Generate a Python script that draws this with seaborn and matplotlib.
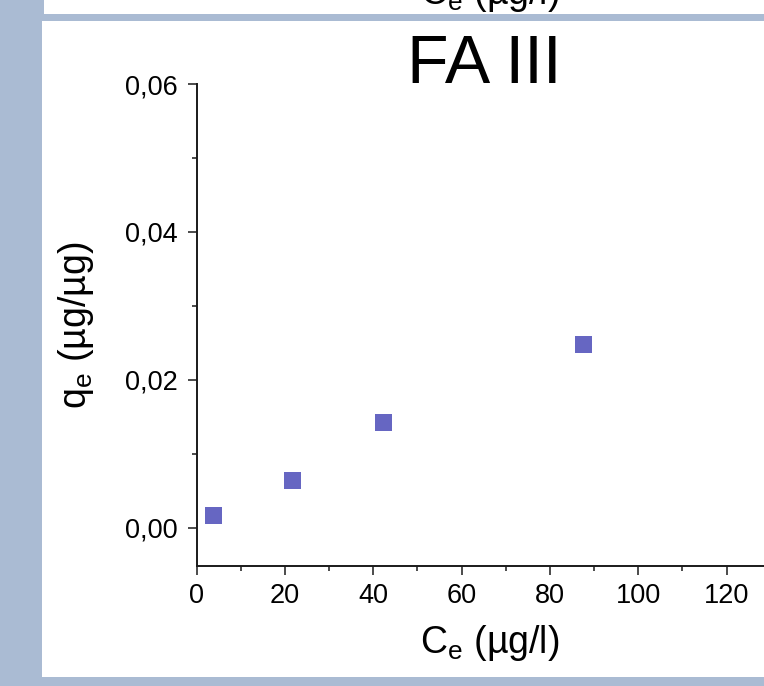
import matplotlib
matplotlib.use("Agg")
import matplotlib.pyplot as plt
from matplotlib.patches import Rectangle
from matplotlib.ticker import MultipleLocator, FuncFormatter
import seaborn as sns
import pandas as pd

# Data
ce_values = [3.8, 21.6, 42.2, 87.6]          # C_e (µg/l)
qe_values = [0.0017, 0.0064, 0.0142, 0.0248]  # q_e (µg/µg)
title_text = "FA III"
x_label = "C$_\\mathregular{e}$ (µg/l)"
y_label = "q$_\\mathregular{e}$ (µg/µg)"

df = pd.DataFrame({"Ce": ce_values, "qe": qe_values})

sns.set_theme(style="ticks")
plt.rcParams["font.family"] = ["Liberation Sans", "DejaVu Sans"]
plt.rcParams["mathtext.default"] = "regular"
plt.rcParams["text.color"] = "black"

W, H = 764, 686
fig = plt.figure(figsize=(W / 100, H / 100), dpi=100)
bg = "#AABBD3"
fig.patch.set_facecolor(bg)

def px_rect(x0, y0, x1, y1, color, z=0):
    fig.patches.append(Rectangle((x0 / W, 1 - y1 / H), (x1 - x0) / W, (y1 - y0) / H,
                                 transform=fig.transFigure, facecolor=color,
                                 edgecolor="none", zorder=z))

# white panels
px_rect(42, 21, 764, 677, "white", z=-2)
px_rect(44, 0, 764, 14, "white", z=-2)

# axes placement (pixel coordinates)
ax_x0, ax_x1 = 196.7, 784.0
ax_y0, ax_y1 = 84.0, 565.7
ax = fig.add_axes([ax_x0 / W, 1 - ax_y1 / H, (ax_x1 - ax_x0) / W, (ax_y1 - ax_y0) / H])
ax.set_facecolor("none")
ax.set_zorder(2)

sns.scatterplot(data=df, x="Ce", y="qe", ax=ax, marker="s", s=150,
                color="#6666C2", edgecolor="none", linewidth=0, zorder=3)

ax.set_xlim(0, 133)
ax.set_ylim(-0.0051, 0.06)
ax.xaxis.set_major_locator(MultipleLocator(20))
ax.xaxis.set_minor_locator(MultipleLocator(10))
ax.yaxis.set_major_locator(MultipleLocator(0.02))
ax.yaxis.set_minor_locator(MultipleLocator(0.01))
ax.yaxis.set_major_formatter(FuncFormatter(lambda v, p: f"{abs(v):.2f}".replace(".", ",")))
ax.xaxis.set_major_formatter(FuncFormatter(lambda v, p: f"{v:.0f}"))

for side in ["top", "right"]:
    ax.spines[side].set_visible(False)
for side in ["left", "bottom"]:
    ax.spines[side].set_linewidth(1.4)
    ax.spines[side].set_color("#1a1a1a")

ax.tick_params(which="major", direction="out", length=6.5, width=1.1, color="#1a1a1a",
               labelsize=19.5, labelcolor="black")
ax.tick_params(axis="y", which="major", pad=7)
ax.tick_params(axis="x", which="major", pad=6)
ax.tick_params(which="minor", direction="out", length=3.5, width=1.1, color="#1a1a1a")
ax.set_xlabel("")
ax.set_ylabel("")

# axis labels, title
fig.text(490 / W, 1 - 653 / H, x_label, ha="center", va="baseline", fontsize=27, color="black")
fig.text(76 / W, 1 - 325 / H, y_label, ha="center", va="center", rotation=90, fontsize=27, color="black")
fig.text(484 / W, 1 - 83 / H, title_text, ha="center", va="baseline", fontsize=49, color="black")

# remnant of previous panel's x label (clipped at top edge, as in the reference)
fig.text(490 / W, 1 - 3.5 / H, x_label, ha="center", va="baseline", fontsize=27, color="black")

# band between panels
px_rect(0, 14, 764, 21, bg, z=5)

fig.savefig("out.png", dpi=100, facecolor=fig.get_facecolor())
